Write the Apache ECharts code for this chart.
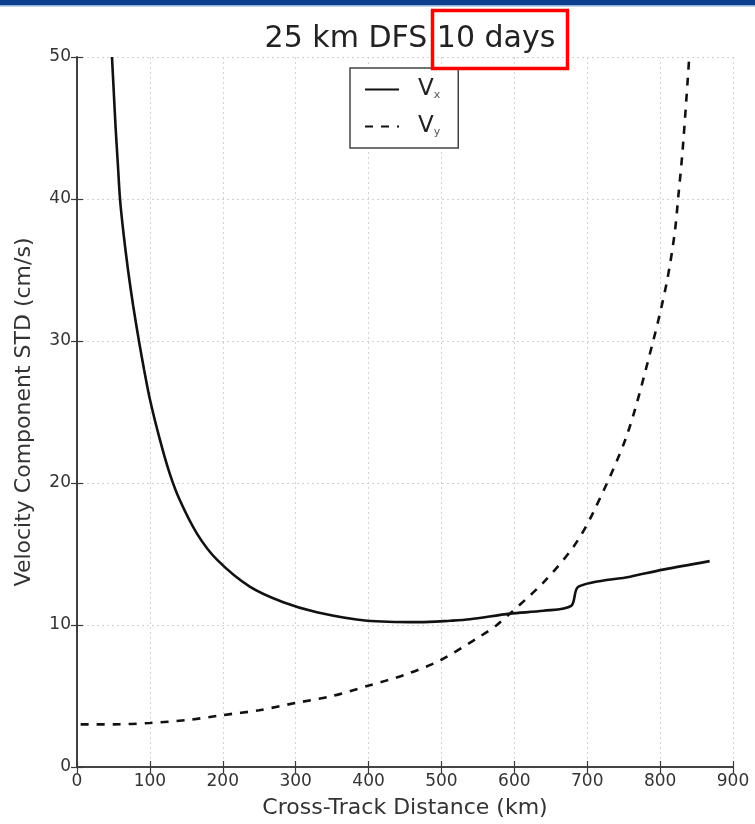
<!DOCTYPE html>
<html>
<head>
<meta charset="utf-8">
<script src="https://cdn.jsdelivr.net/npm/echarts@6/dist/echarts.min.js"></script>
<style>
  html, body { margin: 0; padding: 0; background: #fff; }
  #chart { width: 755px; height: 824px; }
</style>
</head>
<body>
<div id="chart"></div>
<script>
// Cross-track distance (km) and velocity component STD (cm/s)
const vxDist = [48, 50, 53, 56, 59, 64, 70, 77, 85, 92, 100, 114, 127, 141, 165, 192, 237, 283, 329, 398, 470, 512, 539, 594, 640, 678, 688, 759, 804, 868];
const vxStd  = [50, 48, 45, 42.5, 40, 37.5, 35, 32.5, 30, 28, 25.9, 23.0, 20.7, 18.8, 16.4, 14.6, 12.7, 11.6, 10.9, 10.3, 10.2, 10.3, 10.4, 10.8, 11.0, 11.35, 12.7, 13.4, 13.9, 14.5];

const vyDist = [5, 50, 100, 150, 201, 250, 299, 350, 398, 450, 498, 553, 576, 594, 640, 681, 708, 754, 790, 809, 820, 825, 831, 840];
const vyStd  = [3.0, 3.0, 3.1, 3.3, 3.66, 4.0, 4.5, 5.0, 5.7, 6.5, 7.5, 9.2, 10.0, 10.8, 13.0, 15.5, 17.9, 23.3, 29.9, 34.1, 37.6, 40.2, 43.5, 50];

const xTicks = [0, 100, 200, 300, 400, 500, 600, 700, 800, 900];
const yTicks = [0, 10, 20, 30, 40, 50];

const titleText = '25 km DFS 10 days';
const xName = 'Cross-Track Distance (km)';
const yName = 'Velocity Component STD (cm/s)';

const pairs = (xs, ys) => xs.map((x, i) => [x, ys[i]]);

const FONT = 'DejaVu Sans';
const AXIS_COLOR = '#3a3a3a';
const TEXT_COLOR = '#333';

const chart = echarts.init(document.getElementById('chart'), null, { renderer: 'canvas' });

const grid = { left: 77, right: 22, top: 57, bottom: 56 };

const gridLine = { show: true, lineStyle: { color: '#d2d2d2', type: [2, 3], width: 1 } };
const tickIn = { show: true, inside: true, length: 6, lineStyle: { color: AXIS_COLOR, width: 1.2 } };

chart.setOption({
  backgroundColor: '#fff',
  animation: false,
  title: {
    text: titleText,
    left: 405,
    textAlign: 'center',
    top: 19,
    textStyle: { fontFamily: FONT, fontSize: 30, fontWeight: 'normal', color: '#222' }
  },
  grid: grid,
  legend: {
    orient: 'vertical',
    left: 350,
    top: 68,
    padding: [10, 18, 10, 14],
    itemGap: 14,
    itemWidth: 34,
    itemHeight: 20,
    backgroundColor: '#fff',
    borderColor: '#444',
    borderWidth: 1.5,
    itemStyle: { opacity: 0 },
    data: ['Vx', 'Vy'],
    formatter: function (name) {
      return name === 'Vx' ? '{v|V}{s|x}' : '{v|V}{s|y}';
    },
    textStyle: {
      fontFamily: FONT,
      color: '#222',
      rich: {
        v: { fontFamily: FONT, fontSize: 23, color: '#222', padding: [0, 0, 0, 14] },
        s: { fontFamily: FONT, fontSize: 11, color: '#555', verticalAlign: 'bottom', padding: [12, 0, 0, 0] }
      }
    }
  },
  xAxis: [
    {
      type: 'value', min: 0, max: 900, interval: 100,
      name: xName, nameLocation: 'middle', nameGap: 30,
      nameTextStyle: { fontFamily: FONT, fontSize: 22, color: TEXT_COLOR },
      axisLine: { show: true, lineStyle: { color: AXIS_COLOR, width: 1.6 } },
      axisTick: tickIn,
      axisLabel: { fontFamily: FONT, fontSize: 17, color: TEXT_COLOR, margin: 6,
        formatter: v => xTicks.includes(v) ? String(v) : '' },
      splitLine: gridLine
    },
    {
      type: 'value', position: 'top', min: 0, max: 900, interval: 100,
      axisLine: { show: true, lineStyle: { color: AXIS_COLOR, width: 1.6 } },
      axisTick: tickIn,
      axisLabel: { show: false },
      splitLine: { show: false }
    }
  ],
  yAxis: [
    {
      type: 'value', min: 0, max: 50, interval: 10,
      name: yName, nameLocation: 'middle', nameGap: 42, nameRotate: 90,
      nameTextStyle: { fontFamily: FONT, fontSize: 22, color: TEXT_COLOR },
      axisLine: { show: true, lineStyle: { color: AXIS_COLOR, width: 1.6 } },
      axisTick: tickIn,
      axisLabel: { fontFamily: FONT, fontSize: 17, color: TEXT_COLOR, margin: 6,
        formatter: v => yTicks.includes(v) ? String(v) : '' },
      splitLine: gridLine
    },
    {
      type: 'value', position: 'right', min: 0, max: 50, interval: 10,
      axisLine: { show: true, lineStyle: { color: AXIS_COLOR, width: 1.6 } },
      axisTick: tickIn,
      axisLabel: { show: false },
      splitLine: { show: false }
    }
  ],
  series: [
    {
      name: 'Vx', type: 'line', data: pairs(vxDist, vxStd),
      showSymbol: false, symbol: 'none', smooth: 0.3,
      lineStyle: { color: '#111', width: 2.6, type: 'solid' },
      itemStyle: { color: '#111' },
      z: 3
    },
    {
      name: 'Vy', type: 'line', data: pairs(vyDist, vyStd),
      showSymbol: false, symbol: 'none', smooth: 0.3,
      lineStyle: { color: '#111', width: 2.6, type: [8, 8] },
      itemStyle: { color: '#111' },
      z: 3
    }
  ],
  graphic: [
    // header band across the top edge
    { type: 'rect', left: 0, top: 0, shape: { width: 755, height: 5 }, style: { fill: '#0d3f8f' }, z: 10 },
    { type: 'rect', left: 0, top: 5, shape: { width: 755, height: 1.5 }, style: { fill: '#8fb0da' }, z: 10 },
    // highlight box around the period label
    { type: 'rect', left: 430, top: 8, shape: { width: 135, height: 58 },
      style: { fill: 'none', stroke: '#ff0000', lineWidth: 3.5 }, z: 10 }
  ]
});
</script>
</body>
</html>
